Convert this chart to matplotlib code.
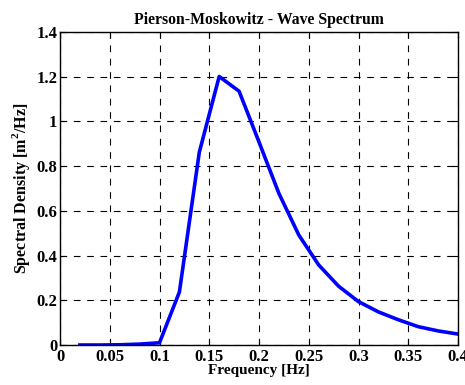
import matplotlib
matplotlib.use("Agg")
import matplotlib.pyplot as plt

freq = [0.02, 0.04, 0.06, 0.08, 0.10, 0.12, 0.14, 0.16, 0.18, 0.20, 0.22, 0.24,
        0.26, 0.28, 0.30, 0.32, 0.34, 0.36, 0.38, 0.40]
density = [0.0, 0.0, 0.001, 0.004, 0.01, 0.237, 0.862, 1.201, 1.135, 0.908, 0.678, 0.492,
           0.358, 0.263, 0.194, 0.148, 0.113, 0.082, 0.063, 0.049]
xticks = [0, 0.05, 0.1, 0.15, 0.2, 0.25, 0.3, 0.35, 0.4]
xticklabels = ["0", "0.05", "0.1", "0.15", "0.2", "0.25", "0.3", "0.35", "0.4"]
yticks = [0, 0.2, 0.4, 0.6, 0.8, 1.0, 1.2, 1.4]
yticklabels = ["0", "0.2", "0.4", "0.6", "0.8", "1", "1.2", "1.4"]

plt.rcParams['font.family'] = ['Liberation Serif', 'DejaVu Serif']
plt.rcParams['font.weight'] = 'bold'
plt.rcParams['mathtext.fontset'] = 'custom'
plt.rcParams['mathtext.rm'] = 'Liberation Serif:bold'
plt.rcParams['mathtext.bf'] = 'Liberation Serif:bold'

fig = plt.figure(figsize=(4.65, 3.85), dpi=100)
ax = fig.add_axes([60/465, 40/385, 398/465, 313/385])
ax.plot(freq, density, color='#0000ff', lw=2.6)
ax.set_xlim(0, 0.4)
ax.set_ylim(0, 1.4)
ax.set_xticks(xticks)
ax.set_xticklabels(xticklabels, fontsize=12, fontweight='bold')
ax.set_yticks(yticks)
ax.set_yticklabels(yticklabels, fontsize=12, fontweight='bold')
ax.tick_params(direction='in', top=True, right=True, length=4, width=0.8, pad=3)
ax.tick_params(axis='y', pad=2)
ax.grid(True, color='black', linestyle=(0, (6, 6)), linewidth=0.8)
for s in ax.spines.values():
    s.set_linewidth(1.0)
ax.set_title("Pierson-Moskowitz - Wave Spectrum", fontsize=11.3, fontweight='bold', pad=6)
ax.set_xlabel("Frequency [Hz]", fontsize=11, fontweight='bold', labelpad=-1)
ax.set_ylabel("Spectral Density [m$^2$/Hz]", fontsize=11.5, fontweight='bold', labelpad=3)
fig.savefig("out.png", dpi=100)
